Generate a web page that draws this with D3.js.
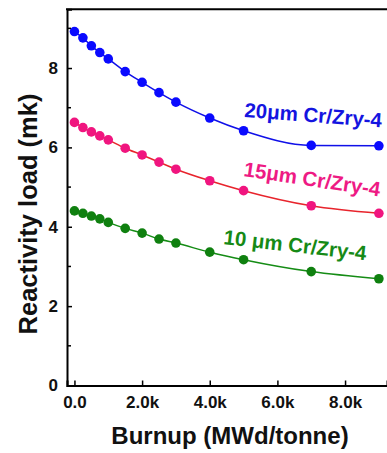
<!DOCTYPE html>
<html>
<head>
<meta charset="utf-8">
<script src="https://cdn.jsdelivr.net/npm/d3@7"></script>
<style>
  body { margin: 0; background: #fff; }
  svg { display: block; font-family: Arial, "Liberation Sans", sans-serif; }
</style>
</head>
<body>
<div id="chart"></div>
<script>
// burnup points (MWd/tonne)
const burnup = [0, 250, 500, 750, 1000, 1500, 2000, 2500, 3000, 4000, 5000, 7000, 9000];
const load20 = [8.92, 8.76, 8.56, 8.39, 8.23, 7.91, 7.64, 7.38, 7.14, 6.74, 6.42, 6.05, 6.04];
const load15 = [6.63, 6.50, 6.39, 6.29, 6.19, 5.98, 5.81, 5.63, 5.45, 5.16, 4.91, 4.53, 4.34];
const load10 = [4.40, 4.34, 4.27, 4.20, 4.11, 3.96, 3.84, 3.69, 3.59, 3.36, 3.17, 2.87, 2.69];
const seriesNames = ['20\u03bcm Cr/Zry-4', '15\u03bcm Cr/Zry-4', '10 \u03bcm Cr/Zry-4'];
const xTicks = [0, 2000, 4000, 6000, 8000];
const yTicks = [0, 2, 4, 6, 8];
const yMinor = [1, 3, 5, 7, 9];

const width = 387;
const height = 453;

const svg = d3.select('#chart').append('svg').attr('width', width).attr('height', height);

const x = d3.scaleLinear().domain([-220, 9240]).range([67, 387]);
const y = d3.scaleLinear().domain([0, 9.48]).range([385.5, 9.3]);

const series = [
  {name: seriesNames[0], values: load20, line: '#1010e8', dot: '#0a0aff', text: '#1414e0', lx: 244, ly: 117, rot: 4.3},
  {name: seriesNames[1], values: load15, line: '#e8242c', dot: '#f0157f', text: '#ee1a84', lx: 243, ly: 176, rot: 8.5},
  {name: seriesNames[2], values: load10, line: '#158c15', dot: '#0f800f', text: '#168a16', lx: 223, ly: 244, rot: 6.5}
];

const line = d3.line().x((d, i) => x(burnup[i])).y(d => y(d)).curve(d3.curveMonotoneX);

series.forEach(s => {
  svg.append('path').datum(s.values).attr('d', line).attr('fill', 'none').attr('stroke', s.line).attr('stroke-width', 1.5);
  svg.append('g').selectAll('circle').data(s.values).join('circle')
    .attr('cx', (d, i) => x(burnup[i])).attr('cy', d => y(d)).attr('r', 4.8).attr('fill', s.dot);
  svg.append('text').attr('transform', `translate(${s.lx},${s.ly}) rotate(${s.rot})`)
    .attr('fill', s.text).attr('font-size', 20.5).attr('font-weight', 'bold')
    .text(s.name);
});

// axes, ticks inward
const xAxis = g => g.attr('transform', 'translate(0,385.5)')
  .call(d3.axisBottom(x).tickValues(xTicks).tickSize(-5).tickPadding(10)
    .tickFormat(d => d === 0 ? '0.0' : (d / 1000).toFixed(1) + 'k'))
  .call(g => g.select('.domain').attr('stroke-width', 2))
  .call(g => g.selectAll('.tick line').attr('stroke-width', 1.5))
  .call(g => g.selectAll('text').attr('font-size', 17).attr('font-weight', 'bold').attr('fill', '#111'));

const yAxis = g => g.attr('transform', 'translate(67,0)')
  .call(d3.axisLeft(y).tickValues(yTicks).tickSize(-5).tickPadding(9).tickFormat(d3.format('d')))
  .call(g => g.select('.domain').attr('stroke-width', 2))
  .call(g => g.selectAll('.tick line').attr('stroke-width', 1.5))
  .call(g => g.selectAll('text').attr('font-size', 17).attr('font-weight', 'bold').attr('fill', '#111'));

svg.append('g').call(xAxis);
svg.append('g').call(yAxis);

svg.append('g').selectAll('line').data(yMinor).join('line')
  .attr('x1', 67).attr('x2', 71).attr('y1', d => y(d)).attr('y2', d => y(d))
  .attr('stroke', '#000').attr('stroke-width', 1.5);

// top frame
svg.append('line').attr('x1', 66).attr('x2', 387).attr('y1', 9.3).attr('y2', 9.3)
  .attr('stroke', '#000').attr('stroke-width', 2);

svg.append('text').attr('x', 230).attr('y', 444).attr('text-anchor', 'middle')
  .attr('font-size', 24).attr('font-weight', 'bold').attr('fill', '#111')
  .text('Burnup (MWd/tonne)');

svg.append('text').attr('transform', 'translate(37,214) rotate(-90)').attr('text-anchor', 'middle')
  .attr('font-size', 25.5).attr('font-weight', 'bold').attr('fill', '#111')
  .text('Reactivity load (mk)');
</script>
</body>
</html>
